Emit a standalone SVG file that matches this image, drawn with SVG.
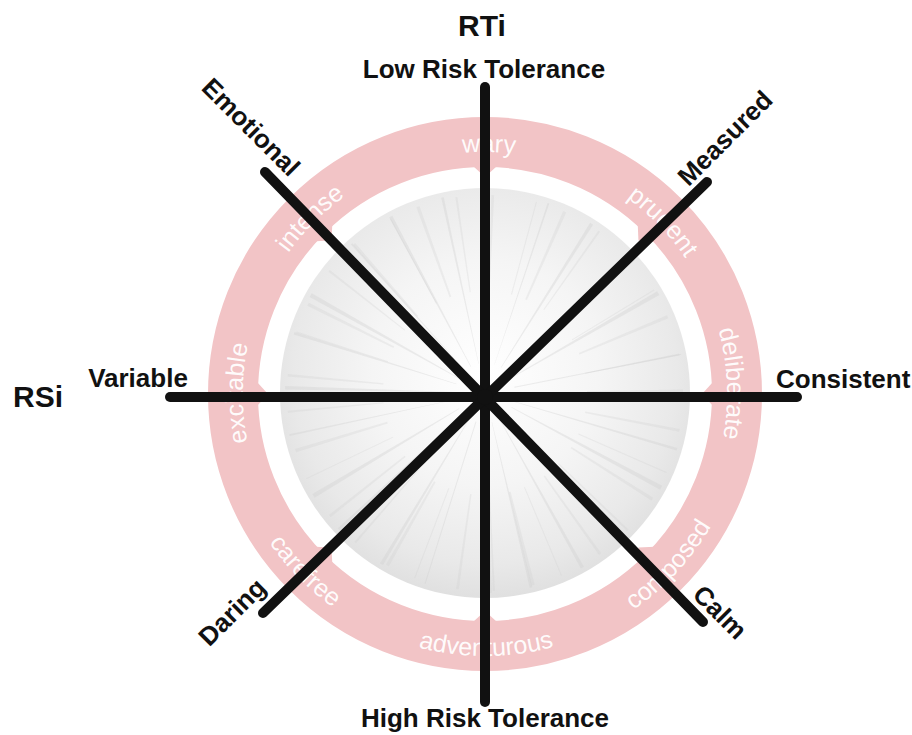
<svg xmlns="http://www.w3.org/2000/svg" xmlns:xlink="http://www.w3.org/1999/xlink" width="912" height="735" viewBox="0 0 912 735">
<style>
.lbl{font-family:"Liberation Sans",Arial,sans-serif;font-weight:bold;font-size:26px;fill:#111}
.ttl{font-family:"Liberation Sans",Arial,sans-serif;font-weight:bold;font-size:30px;fill:#111}
.rt{font-family:"Liberation Sans",Arial,sans-serif;font-size:25px;fill:#ffffff;fill-opacity:0.95}
.axis{stroke:#111;stroke-width:10;stroke-linecap:round;fill:none}
</style>
<defs>
<radialGradient id="sph" cx="50%" cy="45%" r="55%">
<stop offset="0" stop-color="#ffffff"/>
<stop offset="0.5" stop-color="#f5f5f5"/>
<stop offset="0.85" stop-color="#e9e9e9"/>
<stop offset="1" stop-color="#e0e0e0"/>
</radialGradient>
<path id="cw" d="M 485 636 A 242 242 0 1 1 485 152 A 242 242 0 1 1 485 636"/>
<path id="ccw" d="M 485 132 A 262 262 0 1 0 485 656 A 262 262 0 1 0 485 132"/>
<polygon id="notch" points="473,166 497,166 485,177" fill="#f2c4c6"/>
</defs>

<g id="sphere">
<circle cx="485" cy="393" r="205" fill="url(#sph)"/>
<circle cx="485" cy="393" r="115" fill="none" stroke="#cfcfcf" stroke-opacity="0.35" stroke-width="170" stroke-dasharray="2 30 1.5 22 2.5 36 1 26"/>
<circle cx="485" cy="393" r="150" fill="none" stroke="#cacaca" stroke-opacity="0.25" stroke-width="96" stroke-dasharray="1.5 26 2 32 1 21 2.5 28"/>
</g>

<g id="ring">
<circle cx="485" cy="394" r="252" fill="none" stroke="#f2c4c6" stroke-width="50"/>
<use href="#notch"/>
<use href="#notch" transform="rotate(45 485 394)"/>
<use href="#notch" transform="rotate(90 485 394)"/>
<use href="#notch" transform="rotate(135 485 394)"/>
<use href="#notch" transform="rotate(180 485 394)"/>
<use href="#notch" transform="rotate(225 485 394)"/>
<use href="#notch" transform="rotate(270 485 394)"/>
<use href="#notch" transform="rotate(315 485 394)"/>
</g>

<g id="ring-labels">
<text class="rt" text-anchor="middle"><textPath href="#cw" startOffset="381">excitable</textPath></text>
<text class="rt" text-anchor="middle"><textPath href="#cw" startOffset="571">intense</textPath></text>
<text class="rt" text-anchor="middle"><textPath href="#cw" startOffset="764">wary</textPath></text>
<text class="rt" text-anchor="middle"><textPath href="#cw" startOffset="954">prudent</textPath></text>
<text class="rt" text-anchor="middle"><textPath href="#cw" startOffset="1130">deliberate</textPath></text>
<text class="rt" text-anchor="middle"><textPath href="#ccw" startOffset="615">carefree</textPath></text>
<text class="rt" text-anchor="middle"><textPath href="#ccw" startOffset="824">adventurous</textPath></text>
<text class="rt" text-anchor="middle"><textPath href="#ccw" startOffset="1038">composed</textPath></text>
</g>

<g id="connectors">
<line class="axis" x1="485" y1="87" x2="485" y2="702"/>
<line class="axis" x1="170" y1="397" x2="797" y2="397"/>
<line class="axis" x1="265" y1="172" x2="703" y2="622"/>
<line class="axis" x1="707" y1="182" x2="263" y2="613"/>
<circle cx="485" cy="397" r="8" fill="#111"/>
</g>

<g id="title-rti"><text class="ttl" x="482" y="36" text-anchor="middle">RTi</text></g>
<g id="title-rsi"><text class="ttl" x="13" y="407">RSi</text></g>
<g id="node-low"><text class="lbl" x="484" y="78" text-anchor="middle">Low Risk Tolerance</text></g>
<g id="node-high"><text class="lbl" x="485" y="727" text-anchor="middle">High Risk Tolerance</text></g>
<g id="node-variable"><text class="lbl" x="138" y="387" text-anchor="middle">Variable</text></g>
<g id="node-consistent"><text class="lbl" x="776" y="388">Consistent</text></g>
<g id="node-emotional"><text class="lbl" transform="translate(251 127) rotate(45)" x="0" y="9" text-anchor="middle">Emotional</text></g>
<g id="node-measured"><text class="lbl" transform="translate(725 138) rotate(-45)" x="0" y="9" text-anchor="middle">Measured</text></g>
<g id="node-daring"><text class="lbl" transform="translate(232 612) rotate(-45)" x="0" y="9" text-anchor="middle">Daring</text></g>
<g id="node-calm"><text class="lbl" transform="translate(720 612) rotate(45)" x="0" y="9" text-anchor="middle">Calm</text></g>
</svg>
